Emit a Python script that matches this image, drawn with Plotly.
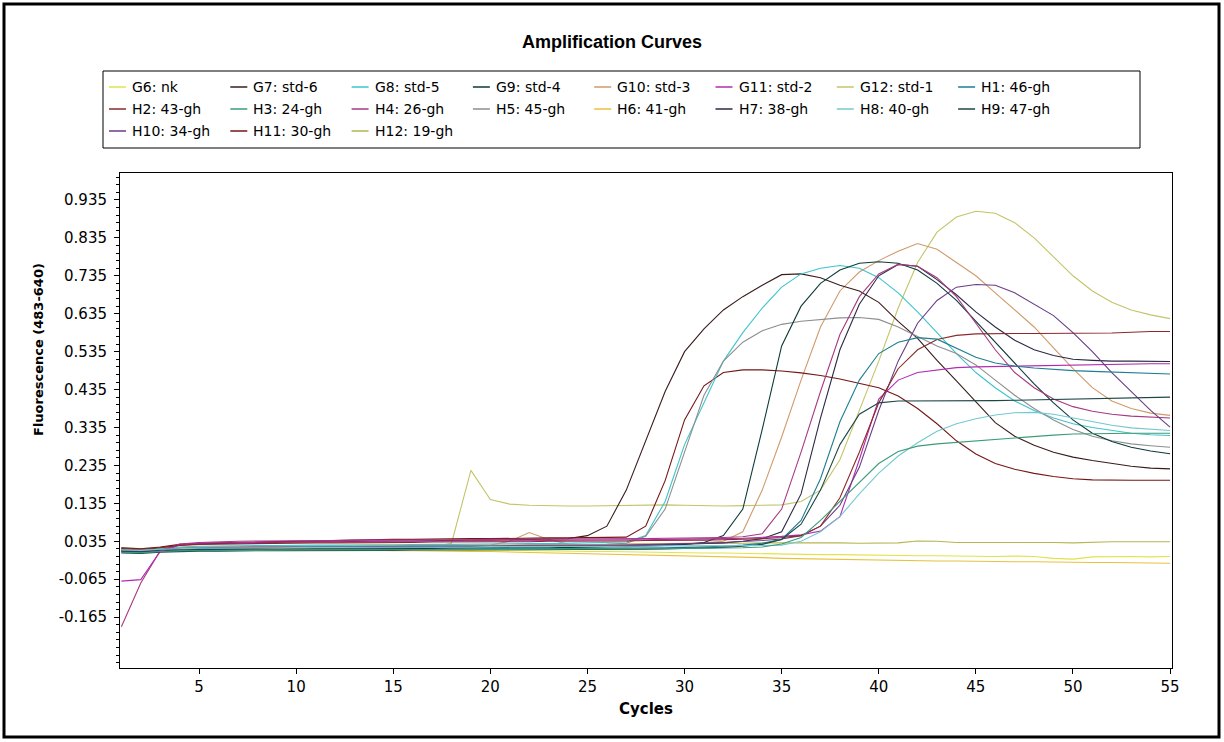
import plotly.graph_objects as go

cycles = list(range(1, 56))

series_names = ["G6: nk", "G7: std-6", "G8: std-5", "G9: std-4", "G10: std-3", "G11: std-2",
                "G12: std-1", "H1: 46-gh", "H2: 43-gh", "H3: 24-gh", "H4: 26-gh", "H5: 45-gh",
                "H6: 41-gh", "H7: 38-gh", "H8: 40-gh", "H9: 47-gh", "H10: 34-gh", "H11: 30-gh",
                "H12: 19-gh"]

series_colors = ["#e2e24a", "#3a1c1c", "#3cc4cc", "#0e3a3a", "#d09a6a", "#b02cb0",
                 "#c4c46a", "#1e7e92", "#8a2a2a", "#3c9c78", "#a63a80", "#8e8e8e",
                 "#e8c23c", "#2a2a48", "#74c8d2", "#1e4646", "#6a3c86", "#741616",
                 "#b6b652"]

G6 = [0.012, 0.010, 0.011, 0.013, 0.014, 0.013, 0.014, 0.015, 0.014, 0.015, 0.014,
      0.015, 0.014, 0.013, 0.014, 0.013, 0.012, 0.012, 0.011, 0.012, 0.011, 0.010,
      0.010, 0.009, 0.008, 0.008, 0.007, 0.006, 0.006, 0.005, 0.004, 0.004, 0.003,
      0.002, 0.002, 0.001, 0.000, 0.000, -0.001, -0.002, -0.002, -0.003, -0.003, -0.004,
      -0.004, -0.005, -0.004, -0.005, -0.010, -0.012, -0.006, -0.005, -0.005, -0.006, -0.005]

G7 = [0.015, 0.012, 0.018, 0.025, 0.028, 0.030, 0.031, 0.032, 0.033, 0.033, 0.034,
      0.034, 0.035, 0.035, 0.036, 0.036, 0.037, 0.037, 0.038, 0.038, 0.039, 0.039,
      0.040, 0.042, 0.050, 0.075, 0.170, 0.300, 0.430, 0.535, 0.595, 0.645, 0.680,
      0.710, 0.738, 0.740, 0.730, 0.710, 0.695, 0.665, 0.615, 0.570, 0.512, 0.458,
      0.402, 0.348, 0.312, 0.288, 0.270, 0.257, 0.248, 0.240, 0.233, 0.228, 0.226]

G8 = [0.014, 0.012, 0.016, 0.020, 0.022, 0.023, 0.023, 0.024, 0.024, 0.025, 0.025,
      0.025, 0.026, 0.026, 0.026, 0.027, 0.027, 0.027, 0.028, 0.028, 0.028, 0.029,
      0.029, 0.030, 0.030, 0.031, 0.033, 0.050, 0.140, 0.290, 0.400, 0.510, 0.585,
      0.650, 0.705, 0.740, 0.755, 0.762, 0.755, 0.730, 0.690, 0.640, 0.585, 0.530,
      0.480, 0.440, 0.405, 0.380, 0.360, 0.345, 0.335, 0.327, 0.320, 0.316, 0.314]

G9 = [0.008, 0.007, 0.010, 0.012, 0.013, 0.013, 0.014, 0.014, 0.014, 0.015, 0.015,
      0.015, 0.015, 0.016, 0.016, 0.016, 0.016, 0.017, 0.017, 0.017, 0.018, 0.018,
      0.018, 0.019, 0.019, 0.020, 0.021, 0.022, 0.024, 0.027, 0.032, 0.050, 0.120,
      0.330, 0.550, 0.655, 0.715, 0.750, 0.768, 0.772, 0.768, 0.750, 0.715, 0.670,
      0.615, 0.560, 0.505, 0.450, 0.400, 0.355, 0.320, 0.298, 0.283, 0.273, 0.266]

G10 = [0.012, 0.010, 0.014, 0.018, 0.019, 0.020, 0.020, 0.021, 0.021, 0.021, 0.022,
       0.022, 0.022, 0.023, 0.023, 0.023, 0.024, 0.024, 0.024, 0.025, 0.035, 0.058,
       0.040, 0.028, 0.026, 0.027, 0.027, 0.028, 0.029, 0.030, 0.031, 0.035, 0.060,
       0.170, 0.310, 0.460, 0.600, 0.695, 0.745, 0.775, 0.800, 0.820, 0.805, 0.770,
       0.735, 0.690, 0.645, 0.600, 0.545, 0.490, 0.440, 0.405, 0.385, 0.373, 0.367]

G11 = [-0.070, -0.066, 0.008, 0.025, 0.030, 0.031, 0.032, 0.032, 0.033, 0.033, 0.034,
       0.034, 0.034, 0.035, 0.035, 0.035, 0.036, 0.036, 0.036, 0.036, 0.037, 0.037,
       0.037, 0.038, 0.038, 0.038, 0.039, 0.039, 0.040, 0.040, 0.041, 0.042, 0.043,
       0.045, 0.048, 0.052, 0.062, 0.100, 0.250, 0.410, 0.460, 0.480, 0.487, 0.493,
       0.495, 0.496, 0.497, 0.498, 0.499, 0.500, 0.500, 0.501, 0.502, 0.503, 0.503]

G12 = [0.010, 0.009, 0.012, 0.015, 0.016, 0.017, 0.017, 0.017, 0.018, 0.018, 0.018,
       0.019, 0.019, 0.019, 0.020, 0.020, 0.020, 0.030, 0.222, 0.145, 0.133, 0.130,
       0.128, 0.128, 0.128, 0.129, 0.130, 0.130, 0.131, 0.130, 0.129, 0.128, 0.129,
       0.130, 0.131, 0.140, 0.170, 0.250, 0.380, 0.510, 0.650, 0.770, 0.850, 0.890,
       0.905, 0.900, 0.875, 0.835, 0.785, 0.735, 0.695, 0.665, 0.645, 0.632, 0.622]

H1 = [0.006, 0.005, 0.008, 0.010, 0.011, 0.011, 0.012, 0.012, 0.012, 0.012, 0.013,
      0.013, 0.013, 0.013, 0.014, 0.014, 0.014, 0.014, 0.014, 0.015, 0.015, 0.015,
      0.015, 0.016, 0.016, 0.016, 0.017, 0.017, 0.018, 0.019, 0.020, 0.022, 0.025,
      0.030, 0.040, 0.090, 0.200, 0.350, 0.460, 0.530, 0.560, 0.572, 0.568, 0.545,
      0.520, 0.505, 0.497, 0.492, 0.488, 0.485, 0.483, 0.481, 0.479, 0.477, 0.476]

H2 = [0.016, 0.014, 0.018, 0.024, 0.027, 0.028, 0.029, 0.029, 0.030, 0.030, 0.031,
      0.031, 0.031, 0.032, 0.032, 0.032, 0.033, 0.033, 0.033, 0.034, 0.034, 0.034,
      0.035, 0.035, 0.035, 0.036, 0.036, 0.037, 0.037, 0.038, 0.038, 0.039, 0.040,
      0.042, 0.045, 0.050, 0.075, 0.150, 0.270, 0.400, 0.490, 0.540, 0.567, 0.578,
      0.582, 0.583, 0.583, 0.583, 0.583, 0.583, 0.583, 0.584, 0.586, 0.588, 0.588]

H3 = [0.006, 0.005, 0.008, 0.010, 0.010, 0.011, 0.011, 0.011, 0.012, 0.012, 0.012,
      0.012, 0.012, 0.013, 0.013, 0.013, 0.013, 0.013, 0.014, 0.014, 0.014, 0.014,
      0.014, 0.015, 0.015, 0.015, 0.015, 0.016, 0.016, 0.016, 0.017, 0.017, 0.018,
      0.020, 0.028, 0.045, 0.090, 0.140, 0.190, 0.240, 0.272, 0.286, 0.292, 0.296,
      0.300, 0.304, 0.308, 0.312, 0.315, 0.318, 0.319, 0.320, 0.320, 0.320, 0.320]

H4 = [-0.190, -0.075, 0.010, 0.028, 0.032, 0.034, 0.035, 0.036, 0.036, 0.037, 0.037,
      0.037, 0.038, 0.038, 0.038, 0.039, 0.039, 0.039, 0.039, 0.040, 0.040, 0.040,
      0.040, 0.041, 0.041, 0.041, 0.042, 0.042, 0.043, 0.043, 0.044, 0.045, 0.047,
      0.055, 0.120, 0.270, 0.430, 0.580, 0.680, 0.740, 0.765, 0.760, 0.730, 0.680,
      0.610, 0.540, 0.480, 0.440, 0.410, 0.390, 0.378, 0.370, 0.365, 0.362, 0.360]

H5 = [0.010, 0.009, 0.013, 0.016, 0.018, 0.019, 0.019, 0.020, 0.020, 0.021, 0.021,
      0.021, 0.022, 0.022, 0.022, 0.023, 0.023, 0.023, 0.024, 0.024, 0.024, 0.025,
      0.025, 0.025, 0.026, 0.027, 0.030, 0.048, 0.120, 0.270, 0.420, 0.510, 0.560,
      0.590, 0.607, 0.615, 0.620, 0.624, 0.625, 0.620, 0.600, 0.575, 0.550, 0.530,
      0.500, 0.460, 0.420, 0.385, 0.355, 0.330, 0.312, 0.300, 0.292, 0.287, 0.283]

H6 = [0.008, 0.007, 0.009, 0.010, 0.011, 0.012, 0.012, 0.013, 0.012, 0.013, 0.012,
      0.012, 0.011, 0.011, 0.010, 0.010, 0.009, 0.009, 0.008, 0.008, 0.007, 0.006,
      0.005, 0.004, 0.003, 0.002, 0.001, 0.000, -0.002, -0.003, -0.004, -0.006, -0.007,
      -0.008, -0.010, -0.011, -0.012, -0.013, -0.014, -0.015, -0.015, -0.016, -0.017, -0.017,
      -0.018, -0.018, -0.019, -0.019, -0.020, -0.020, -0.021, -0.021, -0.022, -0.022, -0.023]

H7 = [0.010, 0.009, 0.012, 0.015, 0.016, 0.017, 0.017, 0.018, 0.018, 0.018, 0.019,
      0.019, 0.019, 0.020, 0.020, 0.020, 0.020, 0.021, 0.021, 0.021, 0.022, 0.022,
      0.022, 0.022, 0.023, 0.023, 0.024, 0.025, 0.026, 0.027, 0.029, 0.031, 0.035,
      0.042, 0.060, 0.160, 0.360, 0.540, 0.660, 0.735, 0.765, 0.760, 0.725, 0.685,
      0.640, 0.600, 0.565, 0.540, 0.525, 0.515, 0.512, 0.510, 0.510, 0.509, 0.509]

H8 = [0.012, 0.011, 0.014, 0.016, 0.017, 0.017, 0.018, 0.018, 0.018, 0.019, 0.019,
      0.019, 0.019, 0.019, 0.020, 0.020, 0.020, 0.020, 0.020, 0.021, 0.021, 0.021,
      0.021, 0.021, 0.022, 0.022, 0.022, 0.022, 0.023, 0.023, 0.023, 0.024, 0.024,
      0.024, 0.025, 0.035, 0.060, 0.100, 0.160, 0.215, 0.260, 0.295, 0.325, 0.345,
      0.358, 0.368, 0.374, 0.375, 0.370, 0.360, 0.350, 0.341, 0.334, 0.330, 0.327]

H9 = [0.004, 0.003, 0.006, 0.008, 0.009, 0.009, 0.010, 0.010, 0.010, 0.010, 0.011,
      0.011, 0.011, 0.011, 0.011, 0.012, 0.012, 0.012, 0.012, 0.012, 0.012, 0.013,
      0.013, 0.013, 0.013, 0.014, 0.014, 0.014, 0.015, 0.016, 0.017, 0.019, 0.022,
      0.027, 0.040, 0.080, 0.170, 0.290, 0.370, 0.400, 0.405, 0.405, 0.404, 0.404,
      0.405, 0.406, 0.407, 0.408, 0.409, 0.410, 0.411, 0.412, 0.413, 0.414, 0.415]

H10 = [0.011, 0.010, 0.013, 0.016, 0.017, 0.018, 0.018, 0.019, 0.019, 0.019, 0.020,
       0.020, 0.020, 0.021, 0.021, 0.021, 0.022, 0.022, 0.022, 0.022, 0.023, 0.023,
       0.023, 0.024, 0.024, 0.024, 0.025, 0.026, 0.027, 0.028, 0.030, 0.032, 0.034,
       0.037, 0.041, 0.050, 0.075, 0.130, 0.230, 0.380, 0.510, 0.610, 0.670, 0.705,
       0.712, 0.710, 0.690, 0.660, 0.630, 0.585, 0.535, 0.480, 0.430, 0.380, 0.336]

H11 = [0.018, 0.015, 0.020, 0.027, 0.030, 0.031, 0.033, 0.034, 0.035, 0.036, 0.037,
       0.038, 0.038, 0.039, 0.040, 0.040, 0.041, 0.041, 0.042, 0.042, 0.043, 0.043,
       0.044, 0.044, 0.045, 0.045, 0.046, 0.075, 0.195, 0.355, 0.445, 0.480, 0.487,
       0.487, 0.484, 0.479, 0.472, 0.463, 0.452, 0.440, 0.418, 0.385, 0.345, 0.300,
       0.265, 0.240, 0.225, 0.214, 0.206, 0.200, 0.197, 0.196, 0.196, 0.196, 0.196]

H12 = [0.018, 0.016, 0.017, 0.019, 0.020, 0.020, 0.021, 0.021, 0.022, 0.022, 0.022,
       0.023, 0.023, 0.022, 0.023, 0.024, 0.024, 0.024, 0.025, 0.025, 0.025, 0.026,
       0.026, 0.026, 0.027, 0.027, 0.027, 0.028, 0.028, 0.029, 0.029, 0.030, 0.030,
       0.031, 0.031, 0.032, 0.032, 0.031, 0.030, 0.031, 0.031, 0.036, 0.035, 0.032,
       0.032, 0.032, 0.033, 0.032, 0.032, 0.031, 0.033, 0.034, 0.034, 0.034, 0.034]

series_values = [G6, G7, G8, G9, G10, G11, G12, H1, H2, H3, H4, H5, H6, H7, H8, H9, H10, H11, H12]

x_ticks = [5, 10, 15, 20, 25, 30, 35, 40, 45, 50, 55]
y_ticks = [0.935, 0.835, 0.735, 0.635, 0.535, 0.435, 0.335, 0.235, 0.135, 0.035, -0.065, -0.165]
y_tick_text = ["0.935", "0.835", "0.735", "0.635", "0.535", "0.435", "0.335", "0.235",
               "0.135", "0.035", "-0.065", "-0.165"]

# ---- layout geometry (pixels in the 1224x742 page) ----
W, H = 1224, 742
PL, PR, PT, PB = 120, 1172, 173, 668


def px(x):
    return (x - PL) / (PR - PL)


def py(y):
    return (PB - y) / (PB - PT)


FONT = "DejaVu Sans, Verdana, sans-serif"
TITLE_FONT = "Liberation Sans, Arial, sans-serif"

fig = go.Figure()
draw_order = [12, 0, 18, 6, 4, 1, 17, 2, 11, 3, 13, 10, 5, 16, 8, 7, 15, 14, 9]
for i in draw_order:
    fig.add_trace(go.Scatter(x=cycles, y=series_values[i], mode="lines",
                             name=series_names[i],
                             line=dict(color=series_colors[i], width=1.1),
                             showlegend=False, hoverinfo="name+x+y"))

shapes = []
annotations = []

# outer frame of the picture
shapes.append(dict(type="rect", xref="paper", yref="paper",
                   x0=px(4), x1=px(1219), y0=py(737), y1=py(4),
                   line=dict(color="black", width=3), fillcolor="rgba(0,0,0,0)", layer="above"))

# legend box
LB_X0, LB_X1, LB_Y0, LB_Y1 = 103, 1140, 71, 148
shapes.append(dict(type="rect", xref="paper", yref="paper",
                   x0=px(LB_X0), x1=px(LB_X1), y0=py(LB_Y1), y1=py(LB_Y0),
                   line=dict(color="black", width=1), fillcolor="white", layer="above"))

COL0, COLW, ROW0, ROWH, NCOL = 109, 121.3, 87, 22, 8
for k, (name, color) in enumerate(zip(series_names, series_colors)):
    r, c = divmod(k, NCOL)
    xs = COL0 + c * COLW
    ys = ROW0 + r * ROWH
    shapes.append(dict(type="line", xref="paper", yref="paper",
                       x0=px(xs), x1=px(xs + 17), y0=py(ys), y1=py(ys),
                       line=dict(color=color, width=1.5), layer="above"))
    annotations.append(dict(xref="paper", yref="paper", x=px(xs + 21), y=py(ys),
                            xanchor="left", yanchor="middle", text=name, showarrow=False,
                            font=dict(family=FONT, size=14, color="black")))

# title and axis titles
annotations.append(dict(xref="paper", yref="paper", x=px(612), y=py(42),
                        xanchor="center", yanchor="middle", showarrow=False,
                        text="<b>Amplification Curves</b>",
                        font=dict(family=TITLE_FONT, size=18, color="black")))
annotations.append(dict(xref="paper", yref="paper", x=px(646), y=py(709),
                        xanchor="center", yanchor="middle", showarrow=False,
                        text="<b>Cycles</b>",
                        font=dict(family=FONT, size=15, color="black")))
annotations.append(dict(xref="paper", yref="paper", x=px(38), y=py(350),
                        xanchor="center", yanchor="middle", showarrow=False, textangle=-90,
                        text="<b>Fluorescence (483-640)</b>",
                        font=dict(family=FONT, size=13, color="black")))

fig.update_layout(
    width=W, height=H,
    margin=dict(l=PL, r=W - PR, t=PT, b=H - PB, pad=0),
    paper_bgcolor="white", plot_bgcolor="white",
    showlegend=False,
    shapes=shapes, annotations=annotations,
    font=dict(family=FONT, size=14, color="black"),
)

fig.update_xaxes(range=[0.93, 55.1], tickmode="array", tickvals=x_ticks,
                 ticktext=[str(t) for t in x_ticks],
                 ticks="outside", ticklen=5, tickcolor="black", tickwidth=1,
                 showline=True, mirror=True, linecolor="black", linewidth=1,
                 showgrid=False, zeroline=False,
                 tickfont=dict(family=FONT, size=15, color="black"))
fig.update_yaxes(range=[-0.299, 1.006], tickmode="array", tickvals=y_ticks, ticktext=y_tick_text,
                 ticks="outside", ticklen=5, tickcolor="black", tickwidth=1,
                 ticklabelstandoff=4,
                 minor=dict(tickmode="linear", tick0=0.035, dtick=0.02, ticks="outside",
                            ticklen=3, tickcolor="black", showgrid=False),
                 showline=True, mirror=True, linecolor="black", linewidth=1,
                 showgrid=False, zeroline=False,
                 tickfont=dict(family=FONT, size=15, color="black"))

fig.write_html("out.html",
               config={"displayModeBar": False},
               post_script="document.body.style.margin='0px';"
                           "document.body.style.overflow='hidden';")
